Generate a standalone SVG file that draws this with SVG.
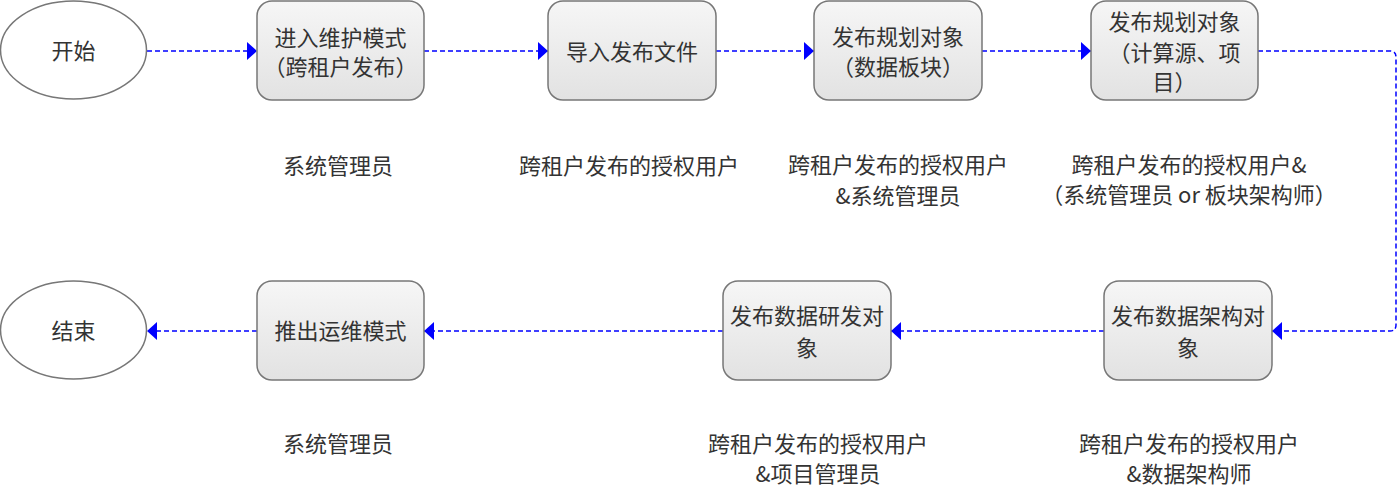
<svg xmlns="http://www.w3.org/2000/svg" width="1400" height="489" viewBox="0 0 1400 489">
<defs>
<linearGradient id="boxfill" x1="0" y1="0" x2="0" y2="1">
<stop offset="0" stop-color="#f6f6f6"/>
<stop offset="1" stop-color="#e2e2e2"/>
</linearGradient>
<marker id="arr" markerUnits="userSpaceOnUse" markerWidth="11" markerHeight="20" refX="10" refY="9" orient="auto">
<path d="M0,0 L10,9 L0,18 Z" fill="#0000ff"/>
</marker>
<style>
.box{fill:url(#boxfill);stroke:#777;stroke-width:1.5}
.ell{fill:#fff;stroke:#777;stroke-width:1.5}
.t{font-family:"Noto Sans CJK SC","Noto Sans",sans-serif;font-size:22px;fill:#333;text-anchor:middle}
.c{fill:none;stroke:#0000ff;stroke-width:1.5;stroke-dasharray:5 3;marker-end:url(#arr)}
</style>
</defs>
<g id="connectors">
<path class="c" d="M147,51 L257,51"/>
<path class="c" d="M424,51 L548,51"/>
<path class="c" d="M716,51 L814,51"/>
<path class="c" d="M982,51 L1091,51"/>
<path class="c" d="M1258,51 L1390,51 Q1396,51 1396,57 L1396,325 Q1396,331 1390,331 L1272,331"/>
<path class="c" d="M1104,331 L891,331"/>
<path class="c" d="M723,331 L424,331"/>
<path class="c" d="M257,331 L147,331"/>
</g>
<g id="start">
<ellipse class="ell" cx="73.5" cy="50" rx="73" ry="49"/>
<text class="t" x="73.5" y="59">开始</text>
</g>
<g id="n1">
<rect class="box" x="257" y="1" width="167" height="99" rx="15"/>
<text class="t" x="340.5" y="45.5">进入维护模式</text>
<text class="t" x="340.5" y="75">（跨租户发布）</text>
</g>
<g id="n2">
<rect class="box" x="548" y="1" width="168" height="99" rx="15"/>
<text class="t" x="632" y="60">导入发布文件</text>
</g>
<g id="n3">
<rect class="box" x="814" y="1" width="168" height="99" rx="15"/>
<text class="t" x="898" y="45">发布规划对象</text>
<text class="t" x="898" y="75">（数据板块）</text>
</g>
<g id="n4">
<rect class="box" x="1091" y="1" width="167" height="99" rx="15"/>
<text class="t" x="1174.5" y="30">发布规划对象</text>
<text class="t" x="1174.5" y="61">（计算源、项</text>
<text class="t" x="1174.5" y="90">目）</text>
</g>
<g id="n5">
<rect class="box" x="1104" y="281" width="168" height="99" rx="15"/>
<text class="t" x="1188" y="324">发布数据架构对</text>
<text class="t" x="1188" y="356">象</text>
</g>
<g id="n6">
<rect class="box" x="723" y="281" width="168" height="99" rx="15"/>
<text class="t" x="807" y="324">发布数据研发对</text>
<text class="t" x="807" y="356">象</text>
</g>
<g id="n7">
<rect class="box" x="257" y="281" width="167" height="99" rx="15"/>
<text class="t" x="340.5" y="339">推出运维模式</text>
</g>
<g id="end">
<ellipse class="ell" cx="73.5" cy="330" rx="73" ry="49"/>
<text class="t" x="73.5" y="339">结束</text>
</g>
<g id="labels">
<text class="t" x="338" y="174">系统管理员</text>
<text class="t" x="629" y="174">跨租户发布的授权用户</text>
<text class="t" x="898" y="173">跨租户发布的授权用户</text>
<text class="t" x="898" y="204">&amp;系统管理员</text>
<text class="t" x="1189" y="173">跨租户发布的授权用户&amp;</text>
<text class="t" x="1189" y="203">（系统管理员 or 板块架构师）</text>
<text class="t" x="338" y="452">系统管理员</text>
<text class="t" x="818" y="452">跨租户发布的授权用户</text>
<text class="t" x="818" y="482">&amp;项目管理员</text>
<text class="t" x="1189" y="452">跨租户发布的授权用户</text>
<text class="t" x="1189" y="482">&amp;数据架构师</text>
</g>
</svg>
